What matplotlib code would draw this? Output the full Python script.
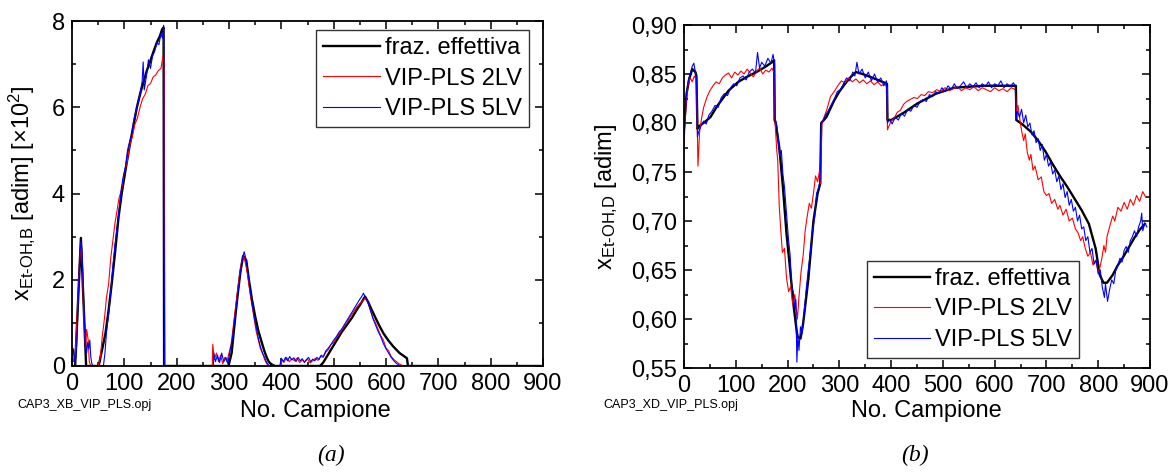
import numpy as np
import matplotlib
matplotlib.use("Agg")
import matplotlib.pyplot as plt
from matplotlib.ticker import MultipleLocator, FixedLocator

plt.rcParams['font.family'] = ['Liberation Sans', 'DejaVu Sans']
plt.rcParams['mathtext.fontset'] = 'custom'
plt.rcParams['mathtext.rm'] = 'Liberation Sans'
plt.rcParams['mathtext.it'] = 'Liberation Sans:italic'

# ---- pannello (a): x Et-OH,B  [x10^2] ----
a_eff_x = [0, 6, 17, 27, 51, 57, 64, 70, 76, 82, 89, 95, 103, 110, 117, 124, 131, 137, 143, 149, 156, 162, 168, 172, 175, 176,
           299, 305, 312, 317, 322, 327, 333, 338, 344, 350, 356, 363, 368, 372, 376, 380, 384, 388,
           474, 480, 487, 495, 506, 515, 525, 535, 544, 552, 560, 566, 572, 579, 587, 595, 604, 614, 626, 640, 642, 900]
a_eff_y = [0, 0, 2.97, 0, 0, 0.35, 0.76, 1.3, 1.92, 2.6, 3.46, 4.0, 4.6, 5.1, 5.55, 6.0, 6.35, 6.6, 6.85, 7.05, 7.3, 7.5, 7.65, 7.8, 7.85, 0,
           0, 0.3, 1.14, 1.7, 2.2, 2.55, 2.45, 2.0, 1.53, 1.15, 0.82, 0.53, 0.33, 0.2, 0.1, 0.05, 0.02, 0,
           0, 0.08, 0.22, 0.38, 0.6, 0.78, 0.95, 1.12, 1.3, 1.45, 1.61, 1.48, 1.32, 1.14, 0.94, 0.76, 0.6, 0.45, 0.3, 0.18, 0, 0]

a_2lv_x = [0, 3, 6, 10, 14, 17, 20, 23, 26, 28, 31, 33, 36, 50, 54, 58, 62, 66, 70, 74, 78, 82, 86, 90, 95, 100, 105, 110,
           115, 120, 125, 130, 135, 140, 145, 150, 155, 160, 165, 170, 174, 176, 177, 268, 269, 272, 276, 280, 284, 288, 292,
           296, 300, 304, 308, 312, 316, 320, 324, 328, 332, 336, 340, 344, 348, 352, 356, 360, 364, 368, 372, 376, 380, 398,
           401, 405, 410, 415, 420, 425, 430, 435, 440, 445, 450, 455, 460, 465, 470, 475, 480, 485, 490, 495, 500, 505, 510,
           515, 520, 525, 530, 535, 540, 545, 550, 555, 560, 565, 570, 575, 580, 585, 590, 595, 600, 605, 610, 615, 620, 625,
           630, 634, 900]
a_2lv_y = [0.45, 0.1, 0.2, 1.2, 2.3, 2.85, 2.3, 1.0, 0.4, 0.85, 0.6, 0.1, 0, 0, 0.2, 0.7, 1.1, 1.6, 1.9, 2.5, 2.9, 3.3, 3.6, 3.9, 4.1, 4.5, 4.7, 5.1,
           5.3, 5.6, 5.75, 6.0, 6.2, 6.3, 6.5, 6.55, 6.7, 6.75, 6.85, 6.9, 7.2, 7.0, 0, 0, 0.5, 0.15, 0.3, 0.1, 0.25, 0.05, 0.2,
           0.1, 0.3, 0.5, 0.9, 1.3, 1.7, 2.1, 2.4, 2.55, 2.35, 2.1, 1.7, 1.4, 1.1, 0.8, 0.6, 0.4, 0.3, 0.15, 0.05, 0.0, 0, 0,
           0.15, 0.08, 0.2, 0.1, 0.17, 0.12, 0.18, 0.08, 0.14, 0.1, 0.16, 0.07, 0.12, 0.18, 0.13, 0.22, 0.2, 0.32, 0.38, 0.5, 0.55, 0.65, 0.75,
           0.82, 0.92, 1.0, 1.12, 1.2, 1.3, 1.38, 1.45, 1.5, 1.57, 1.48, 1.3, 1.12, 1.0, 0.85, 0.7, 0.6, 0.42, 0.35, 0.22, 0.15, 0.1, 0.05,
           0.02, 0, 0]

a_5lv_x = [0, 3, 6, 9, 12, 15, 17, 19, 22, 25, 28, 30, 32, 34, 36, 38, 40, 60, 63, 66, 70, 74, 78, 82, 86, 90, 94, 98, 102,
           106, 110, 114, 118, 122, 126, 130, 134, 136, 138, 142, 146, 150, 154, 158, 162, 166, 170, 173, 175, 177, 270, 271,
           274, 278, 282, 286, 290, 294, 298, 302, 306, 310, 314, 318, 322, 326, 329, 332, 336, 340, 344, 348, 352, 356, 360,
           364, 368, 372, 376, 380, 397, 400, 404, 408, 412, 416, 420, 424, 428, 432, 436, 440, 444, 448, 452, 456, 460, 464,
           468, 472, 476, 480, 485, 490, 495, 500, 505, 510, 515, 520, 525, 530, 535, 540, 545, 550, 554, 557, 560, 565, 570,
           575, 580, 585, 590, 595, 600, 605, 610, 615, 620, 625, 628, 900]
a_5lv_y = [0.1, 0.4, 0.05, 0.5, 1.6, 2.6, 2.9, 2.7, 1.6, 0.6, 0.3, 0.55, 0.4, 0.6, 0.2, 0.05, 0, 0, 0.3, 0.8, 1.2, 1.7, 2.3, 2.8, 3.2, 3.6, 4.1, 4.4, 4.6,
           5.0, 5.2, 5.35, 5.7, 5.9, 6.1, 6.3, 6.6, 7.05, 6.4, 6.7, 7.1, 6.9, 7.2, 7.3, 7.5, 7.45, 7.7, 7.6, 7.9, 0, 0, 0.3,
           0.1, 0.25, 0.08, 0.3, 0.1, 0.2, 0.05, 0.35, 0.6, 1.0, 1.4, 1.8, 2.2, 2.5, 2.65, 2.5, 2.2, 1.8, 1.45, 1.15, 0.9, 0.65, 0.45,
           0.3, 0.2, 0.08, 0.02, 0, 0, 0.18, 0.1, 0.2, 0.12, 0.22, 0.14, 0.19, 0.1, 0.2, 0.12, 0.17, 0.08, 0.15, 0.2, 0.1, 0.16, 0.12,
           0.2, 0.15, 0.25, 0.22, 0.35, 0.42, 0.5, 0.6, 0.68, 0.78, 0.85, 0.95, 1.05, 1.15, 1.25, 1.35, 1.45, 1.55, 1.62, 1.69, 1.6, 1.5, 1.3,
           1.1, 0.95, 0.8, 0.68, 0.52, 0.4, 0.3, 0.2, 0.12, 0.06, 0.02, 0, 0]

# ---- pannello (b): x Et-OH,D ----
b_eff_x = [0, 5, 10, 16, 22, 24, 26, 30, 40, 51, 65, 86, 105, 121, 140, 156, 170, 174, 175, 177, 184, 191, 198, 205, 212,
           219, 225, 230, 240, 250, 258, 263, 265, 275, 290, 300, 311, 322, 332, 345, 360, 374, 392, 393, 400, 423, 451, 487,
           522, 550, 578, 610, 641, 642, 655, 670, 684, 698, 712, 726, 740, 754, 768, 782, 795, 803, 810, 817, 828, 838, 848,
           859, 870, 880, 890]
b_eff_y = [0.795, 0.83, 0.845, 0.855, 0.852, 0.848, 0.794, 0.797, 0.801, 0.806, 0.818, 0.833, 0.842, 0.847, 0.852, 0.857, 0.862,
           0.864, 0.803, 0.800, 0.775, 0.735, 0.687, 0.650, 0.612, 0.582, 0.580, 0.595, 0.640, 0.700, 0.728, 0.738, 0.800, 0.806,
           0.823, 0.832, 0.840, 0.847, 0.852, 0.850, 0.847, 0.844, 0.840, 0.803, 0.803, 0.810, 0.820, 0.830, 0.836, 0.837, 0.838,
           0.838, 0.838, 0.803, 0.798, 0.791, 0.782, 0.771, 0.758, 0.746, 0.735, 0.723, 0.711, 0.697, 0.672, 0.645, 0.637, 0.637,
           0.645, 0.655, 0.663, 0.673, 0.683, 0.691, 0.697]

b_2lv_x = [0, 4, 8, 12, 16, 20, 24, 27, 30, 34, 38, 44, 50, 56, 62, 68, 74, 80, 86, 92, 98, 104, 110, 116, 122, 128, 134, 140,
           146, 152, 158, 164, 170, 174, 176, 179, 181, 184, 187, 190, 194, 198, 202, 206, 210, 214, 217, 219, 222, 226, 230,
           234, 238, 242, 246, 250, 254, 258, 262, 264, 266, 270, 276, 283, 290, 297, 304, 311, 318, 325, 332, 339, 346, 353,
           360, 367, 374, 381, 388, 392, 393, 396, 400, 406, 412, 418, 424, 430, 437, 444, 451, 458, 465, 472, 480, 488, 496,
           504, 512, 520, 528, 536, 544, 552, 560, 568, 576, 584, 592, 600, 608, 616, 624, 632, 640, 642, 645, 648, 652, 656,
           659, 663, 667, 670, 674, 678, 684, 690, 695, 700, 705, 710, 716, 722, 726, 732, 738, 744, 750, 756, 761, 766, 770,
           775, 780, 785, 790, 795, 800, 803, 807, 811, 814, 817, 820, 824, 828, 832, 838, 844, 850, 856, 862, 868, 874, 880,
           886, 892]
b_2lv_y = [0.778, 0.82, 0.840, 0.846, 0.842, 0.848, 0.844, 0.756, 0.790, 0.805, 0.816, 0.826, 0.833, 0.838, 0.842, 0.840, 0.846,
           0.849, 0.851, 0.846, 0.852, 0.849, 0.853, 0.850, 0.855, 0.851, 0.847, 0.853, 0.856, 0.850, 0.854, 0.852, 0.856, 0.851,
           0.800, 0.773, 0.762, 0.715, 0.690, 0.668, 0.672, 0.642, 0.628, 0.633, 0.615, 0.625, 0.610, 0.600, 0.622, 0.648, 0.664,
           0.690, 0.705, 0.718, 0.713, 0.728, 0.746, 0.740, 0.752, 0.738, 0.798, 0.805, 0.814, 0.827, 0.832, 0.838, 0.843, 0.841,
           0.846, 0.842, 0.845, 0.841, 0.844, 0.840, 0.843, 0.839, 0.842, 0.838, 0.840, 0.836, 0.793, 0.797, 0.802, 0.805, 0.811,
           0.813, 0.819, 0.822, 0.824, 0.826, 0.825, 0.829, 0.828, 0.832, 0.831, 0.834, 0.832, 0.836, 0.833, 0.835, 0.837, 0.833,
           0.836, 0.834, 0.837, 0.833, 0.836, 0.834, 0.832, 0.836, 0.833, 0.835, 0.832, 0.836, 0.834, 0.812, 0.818, 0.806, 0.792,
           0.782, 0.789, 0.770, 0.762, 0.768, 0.752, 0.756, 0.742, 0.745, 0.730, 0.726, 0.728, 0.718, 0.722, 0.712, 0.716, 0.706,
           0.712, 0.700, 0.703, 0.692, 0.688, 0.680, 0.684, 0.672, 0.664, 0.668, 0.655, 0.660, 0.648, 0.652, 0.662, 0.675, 0.668,
           0.684, 0.690, 0.698, 0.705, 0.700, 0.714, 0.710, 0.719, 0.712, 0.722, 0.716, 0.726, 0.720, 0.730, 0.724]

b_5lv_x = [0, 4, 8, 12, 16, 19, 22, 24, 26, 29, 33, 38, 43, 48, 54, 60, 66, 72, 78, 84, 90, 96, 102, 108, 114, 120, 126, 132,
           138, 142, 146, 150, 156, 162, 168, 172, 175, 176, 179, 182, 185, 188, 191, 194, 198, 202, 205, 208, 211, 214, 216,
           218, 220, 222, 225, 228, 232, 236, 240, 244, 248, 252, 256, 260, 263, 265, 268, 273, 278, 284, 290, 296, 302, 308,
           314, 320, 326, 330, 334, 338, 344, 350, 356, 362, 368, 374, 380, 386, 391, 393, 397, 402, 408, 414, 420, 426, 432,
           438, 444, 450, 456, 462, 468, 474, 480, 486, 492, 498, 504, 510, 516, 522, 528, 534, 540, 546, 552, 558, 564, 570,
           576, 582, 588, 594, 600, 606, 612, 618, 624, 630, 636, 640, 641, 644, 648, 652, 656, 660, 664, 668, 672, 676, 680,
           684, 688, 692, 696, 700, 704, 708, 712, 716, 720, 724, 728, 732, 736, 740, 744, 748, 752, 756, 760, 764, 768, 772,
           776, 780, 784, 788, 792, 796, 800, 804, 808, 812, 814, 818, 822, 826, 830, 834, 838, 842, 846, 850, 854, 858, 862,
           866, 870, 874, 878, 882, 884, 886, 890, 894]
b_5lv_y = [0.785, 0.825, 0.842, 0.850, 0.858, 0.861, 0.852, 0.846, 0.786, 0.792, 0.797, 0.802, 0.799, 0.808, 0.812, 0.818, 0.816,
           0.826, 0.830, 0.828, 0.836, 0.840, 0.838, 0.846, 0.848, 0.844, 0.852, 0.855, 0.851, 0.872, 0.856, 0.862, 0.858, 0.866,
           0.861, 0.870, 0.860, 0.805, 0.798, 0.785, 0.765, 0.772, 0.748, 0.735, 0.708, 0.680, 0.665, 0.632, 0.628, 0.610, 0.620,
           0.556, 0.584, 0.568, 0.592, 0.585, 0.606, 0.630, 0.650, 0.668, 0.690, 0.702, 0.728, 0.734, 0.742, 0.800, 0.802, 0.808,
           0.812, 0.818, 0.824, 0.832, 0.834, 0.840, 0.846, 0.843, 0.852, 0.848, 0.862, 0.850, 0.855, 0.846, 0.852, 0.843, 0.850,
           0.842, 0.846, 0.838, 0.843, 0.800, 0.804, 0.799, 0.806, 0.803, 0.810, 0.807, 0.814, 0.812, 0.818, 0.816, 0.822, 0.824,
           0.822, 0.829, 0.827, 0.832, 0.830, 0.836, 0.832, 0.838, 0.834, 0.840, 0.835, 0.838, 0.842, 0.836, 0.840, 0.837, 0.841,
           0.836, 0.840, 0.837, 0.842, 0.836, 0.840, 0.838, 0.843, 0.836, 0.840, 0.837, 0.841, 0.838, 0.803, 0.812, 0.806, 0.814,
           0.800, 0.808, 0.796, 0.800, 0.788, 0.792, 0.780, 0.784, 0.772, 0.778, 0.762, 0.768, 0.756, 0.760, 0.748, 0.752, 0.740,
           0.746, 0.732, 0.738, 0.724, 0.730, 0.716, 0.722, 0.710, 0.714, 0.700, 0.706, 0.692, 0.694, 0.680, 0.684, 0.668, 0.672,
           0.656, 0.660, 0.646, 0.650, 0.632, 0.622, 0.636, 0.618, 0.630, 0.640, 0.636, 0.650, 0.655, 0.662, 0.658, 0.670, 0.674,
           0.668, 0.680, 0.684, 0.690, 0.684, 0.694, 0.700, 0.708, 0.690, 0.698, 0.694]

legend_labels = ['fraz. effettiva', 'VIP-PLS 2LV', 'VIP-PLS 5LV']
b_yticks = [0.55, 0.60, 0.65, 0.70, 0.75, 0.80, 0.85, 0.90]
b_yticklabels = ['0,55', '0,60', '0,65', '0,70', '0,75', '0,80', '0,85', '0,90']

W, H = 1172, 472
fig = plt.figure(figsize=(W / 100, H / 100), dpi=100)
axA = fig.add_axes([72 / W, (H - 366) / H, 471 / W, 345 / H])
axB = fig.add_axes([684 / W, (H - 368) / H, 466 / W, 343 / H])

FS = 17


def style(ax):
    ax.set_xlim(0, 900)
    ax.xaxis.set_major_locator(MultipleLocator(100))
    ax.xaxis.set_minor_locator(MultipleLocator(50))
    ax.tick_params(which='both', direction='in', top=True, right=True, labelsize=FS, width=1.1, pad=5)
    ax.tick_params(which='major', length=6)
    ax.tick_params(which='minor', length=3)
    for s in ax.spines.values():
        s.set_linewidth(1.3)


def add_legend(ax, loc, anchor):
    leg = ax.legend(loc=loc, bbox_to_anchor=anchor, fontsize=17, frameon=True, fancybox=False,
                    handlelength=2.4, handletextpad=0.2, borderpad=0.3, labelspacing=0.36, borderaxespad=0)
    leg.get_frame().set_edgecolor('black')
    leg.get_frame().set_linewidth(1.0)


# (a)
axA.plot(a_eff_x, a_eff_y, color='black', lw=1.7, label=legend_labels[0])
axA.plot(a_2lv_x, a_2lv_y, color='red', lw=0.8, label=legend_labels[1])
axA.plot(a_5lv_x, a_5lv_y, color='blue', lw=0.8, label=legend_labels[2])
style(axA)
axA.set_ylim(0, 8)
axA.yaxis.set_major_locator(MultipleLocator(2))
axA.yaxis.set_minor_locator(MultipleLocator(1))
axA.set_xlabel('No. Campione', fontsize=17)
axA.set_ylabel(r'x$_{\mathregular{Et\text{-}OH{,}B}}$ [adim] [$\times$10$^{\mathregular{2}}$]', fontsize=17)
axA.xaxis.set_label_coords(0.516, -0.099)
axA.yaxis.set_label_coords(-0.074, 0.5)
add_legend(axA, 'upper right', (0.970, 0.974))

# (b)
axB.plot(b_eff_x, b_eff_y, color='black', lw=1.7, label=legend_labels[0])
axB.plot(b_2lv_x, b_2lv_y, color='red', lw=0.8, label=legend_labels[1])
axB.plot(b_5lv_x, b_5lv_y, color='blue', lw=0.8, label=legend_labels[2])
style(axB)
axB.set_ylim(0.55, 0.90)
axB.yaxis.set_major_locator(FixedLocator(b_yticks))
axB.set_yticklabels(b_yticklabels)
axB.yaxis.set_minor_locator(MultipleLocator(0.025))
axB.set_xlabel('No. Campione', fontsize=17)
axB.set_ylabel(r'x$_{\mathregular{Et\text{-}OH{,}D}}$ [adim]', fontsize=17)
axB.xaxis.set_label_coords(0.52, -0.093)
axB.yaxis.set_label_coords(-0.137, 0.5)
add_legend(axB, 'lower right', (0.848, 0.029))

fig.text(17 / W, 1 - 405 / H, 'CAP3_XB_VIP_PLS.opj', fontsize=9, va='center', ha='left')
fig.text(603 / W, 1 - 405 / H, 'CAP3_XD_VIP_PLS.opj', fontsize=9, va='center', ha='left')
fig.text(331 / W, 1 - 455 / H, '(a)', fontsize=17, style='italic', family='Liberation Serif', ha='center', va='center')
fig.text(915 / W, 1 - 455 / H, '(b)', fontsize=17, style='italic', family='Liberation Serif', ha='center', va='center')

fig.savefig('out.png', dpi=100)
